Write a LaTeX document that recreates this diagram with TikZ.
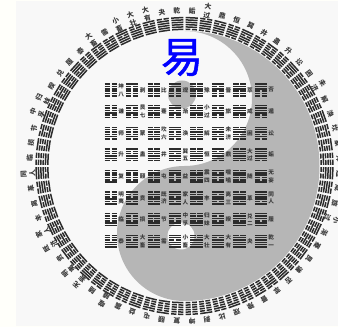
\documentclass[tikz,border=0pt]{standalone}
\usepackage{fontspec}
\setmainfont{Noto Sans CJK SC}
\newfontfamily\heavyfont[FakeBold=1.2]{Noto Sans CJK SC}
\definecolor{panel}{HTML}{F8F8F8}
\definecolor{outside}{HTML}{FFFFFA}
\definecolor{yin}{HTML}{B6B6B6}
\definecolor{bar}{HTML}{2C2C2C}
\definecolor{lab}{HTML}{3A3A3A}
\tikzset{
  barline/.style={draw=bar,line width=1.5pt},
  ringlab/.style={text=lab,font=\fontsize{6.8}{8.8}\selectfont\bfseries,align=center,inner sep=0pt},
  gridlab/.style={text=lab,font=\fontsize{5.6}{7.8}\selectfont\bfseries,align=center,inner sep=0pt},
}
% #1 value (six bits, bottom line first), #2 half-width at centre, #3 half-width growth per unit of height
\newcommand{\hexa}[3]{%
  \foreach \lin in {0,...,5}{%
    \pgfmathtruncatemacro{\bitv}{mod(floor(#1/2^(5-\lin)),2)}%
    \pgfmathsetmacro{\yy}{-5.85+2.34*\lin}%
    \pgfmathsetmacro{\hw}{#2+#3*\yy}%
    \ifnum\bitv=1
      \draw[barline] (-\hw,\yy) -- (\hw,\yy);
    \else
      \draw[barline] (-\hw,\yy) -- (-0.8,\yy);
      \draw[barline] (0.8,\yy) -- (\hw,\yy);
    \fi
  }%
}
\begin{document}
\begin{tikzpicture}[x=1pt,y=1pt]
\useasboundingbox (0,0) rectangle (338,327);
\fill[outside] (0,0) rectangle (338,327);
\fill[panel] (16,1) rectangle (338,326);
\coordinate (C) at (184.5,161);
% yin-yang
\fill[yin] (184.5,296) arc (90:-90:135) arc (270:90:67.5) arc (-90:90:67.5) -- cycle;
\fill[yin] (182,232.5) circle (14);
\fill[panel] (181,91) circle (13.5);
% outer ring
\foreach \nm/\rad [count=\k from 0] in {乾/155,夬/155,大\\有/156.5,大\\壮/156.5,小\\畜/156.5,需/155,大\\畜/156.5,泰/155,履/155,兑/155,睽/155,归\\妹/156.5,中\\孚/156.5,节/155,损/155,临/155,同\\人/156.5,革/155,离/155,丰/155,家\\人/156.5,既\\济/156.5,贲/155,明\\夷/156.5,无\\妄/156.5,随/155,噬\\嗑/156.5,震/155,益/155,屯/155,颐/155,复/155}{
  \pgfmathsetmacro{\ang}{(\k+0.5)*5.625}
  \pgfmathtruncatemacro{\val}{63-\k}
  \begin{scope}[shift={(C)},rotate=\ang]
    \begin{scope}[shift={(0,142.5)}]
      \hexa{\val}{5.85}{0.041}
    \end{scope}
    \node[ringlab,rotate=\ang] at (0,\rad) {\nm};
  \end{scope}
}
\foreach \nm/\rad [count=\k from 0] in {姤/155,大\\过/156.5,鼎/155,恒/155,巽/155,井/155,蛊/155,升/155,讼/155,困/155,未\\济/156.5,解/155,涣/155,坎/155,蒙/155,师/155,遁/155,咸/155,旅/155,小\\过/156.5,渐/155,蹇/155,艮/155,谦/155,否/155,萃/155,晋/155,豫/155,观/155,比/155,剥/155,坤/155}{
  \pgfmathsetmacro{\ang}{-(\k+0.5)*5.625}
  \pgfmathtruncatemacro{\val}{31-\k}
  \begin{scope}[shift={(C)},rotate=\ang]
    \begin{scope}[shift={(0,142.5)}]
      \hexa{\val}{5.85}{0.041}
    \end{scope}
    \node[ringlab,rotate=\ang] at (0,\rad) {\nm};
  \end{scope}
}
% square
\foreach \nm [count=\n from 0] in {
  坤\\八,剥,比,观,豫,晋,萃,否,
  谦,艮\\七,蹇,渐,小\\过,旅,咸,遁,
  师,蒙,坎\\六,涣,解,未\\济,困,讼,
  升,蛊,井,巽\\五,恒,鼎,大\\过,姤,
  复,颐,屯,益,震\\四,噬\\嗑,随,无\\妄,
  明\\夷,贲,既\\济,家\\人,丰,离\\三,革,同\\人,
  临,损,节,中\\孚,归\\妹,睽,兑\\二,履,
  泰,大\\畜,需,小\\畜,大\\壮,大\\有,夬,乾\\一}{
  \pgfmathtruncatemacro{\rw}{int(\n/8)}
  \pgfmathtruncatemacro{\cl}{\n-8*\rw}
  \pgfmathsetmacro{\px}{110.7+21.45*\cl}
  \pgfmathsetmacro{\py}{327-(90+21.6*\rw)}
  \begin{scope}[shift={(\px,\py)}]
    \hexa{\n}{6.1}{0}
    \node[gridlab] at (10.4,0) {\nm};
  \end{scope}
}
\node[text=blue,font=\fontsize{42}{42}\selectfont\heavyfont,inner sep=0pt] at (182,269.5) {易};
\end{tikzpicture}
\end{document}
